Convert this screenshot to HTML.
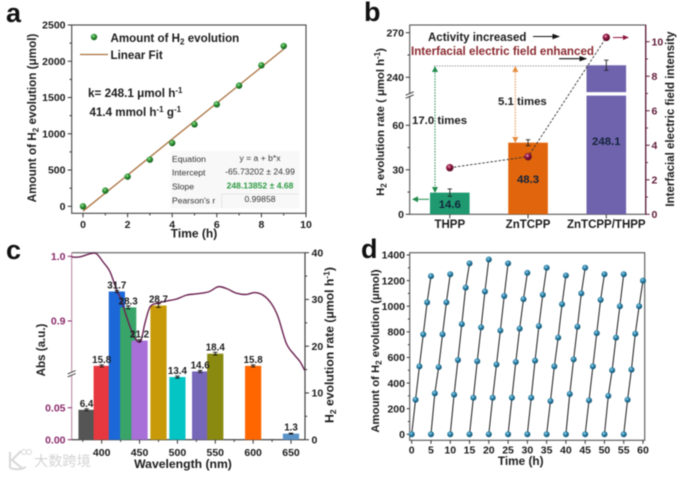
<!DOCTYPE html>
<html>
<head>
<meta charset="utf-8">
<style>
html,body{margin:0;padding:0;background:#fff;width:686px;height:477px;overflow:hidden}
svg{display:block;filter:blur(0.45px)}
text{font-family:"Liberation Sans","Noto Sans CJK SC",sans-serif;font-weight:bold;fill:#1c1c1c}
.t{font-size:10.5px}
.n{font-weight:normal;font-size:8.6px;fill:#333}
.letter{font-size:27px;fill:#111}
</style>
</head>
<body>
<svg id="fig" width="686" height="477" viewBox="0 0 686 477" xmlns="http://www.w3.org/2000/svg">
<defs>
<radialGradient id="gGreen" cx="40%" cy="35%" r="65%"><stop offset="0" stop-color="#a8dca8"/><stop offset=".45" stop-color="#2f9a35"/><stop offset="1" stop-color="#145a1a"/></radialGradient>
<radialGradient id="gMaroon" cx="40%" cy="35%" r="65%"><stop offset="0" stop-color="#e8a0b8"/><stop offset=".45" stop-color="#8e1440"/><stop offset="1" stop-color="#4e0a24"/></radialGradient>
<radialGradient id="gTeal" cx="40%" cy="35%" r="65%"><stop offset="0" stop-color="#a6d6ea"/><stop offset=".45" stop-color="#2a85ad"/><stop offset="1" stop-color="#124f6c"/></radialGradient>
<marker id="ahBlack" markerWidth="7" markerHeight="6" refX="6" refY="3" orient="auto"><path d="M0,0.5 L7,3 L0,5.5Z" fill="#111"/></marker>
<marker id="ahGreen" markerWidth="6" markerHeight="6" refX="5" refY="3" orient="auto-start-reverse"><path d="M0,0 L6,3 L0,6Z" fill="#1f8a4c"/></marker>
<marker id="ahOrange" markerWidth="6" markerHeight="6" refX="5" refY="3" orient="auto-start-reverse"><path d="M0,0 L6,3 L0,6Z" fill="#e58a3a"/></marker>
<marker id="ahMaroon" markerWidth="6" markerHeight="6" refX="5" refY="3" orient="auto"><path d="M0,0.5 L6,3 L0,5.5Z" fill="#8e1440"/></marker>
</defs>

<!-- Panel letters -->
<text class="letter" x="6" y="22">a</text>
<text class="letter" x="364" y="21">b</text>
<text class="letter" x="6" y="259">c</text>
<text class="letter" x="361" y="258">d</text>

<!-- Panel a static -->
<g id="panelA">
<rect x="71.7" y="25" width="234.3" height="188.3" fill="none" stroke="#444" stroke-width="1.1"/>
<text x="194" y="237.5" text-anchor="middle" font-size="12">Time (h)</text>
<text transform="translate(36,118) rotate(-90)" text-anchor="middle" font-size="11.7">Amount of H<tspan font-size="8" dy="2.5">2</tspan><tspan dy="-2.5"> evolution (μmol)</tspan></text>
<circle cx="94" cy="37" r="3.2" fill="url(#gGreen)"/>
<text x="110.5" y="42" font-size="11.6">Amount of H<tspan font-size="8" dy="2.5">2</tspan><tspan dy="-2.5"> evolution</tspan></text>
<line x1="80" y1="54.5" x2="108" y2="54.5" stroke="#a9713f" stroke-width="1.2"/>
<text x="110.5" y="59" font-size="11.6">Linear Fit</text>
<text x="88" y="97" font-size="11.7">k= 248.1 μmol h<tspan font-size="8" dy="-4">-1</tspan></text>
<text x="89.5" y="116" font-size="11.6">41.4 mmol h<tspan font-size="8" dy="-4">-1</tspan><tspan dy="4"> g</tspan><tspan font-size="8" dy="-4">-1</tspan></text>
</g>
<g id="panelAMarks"></g>
<g>
<rect x="170.7" y="151" width="128.6" height="57.3" fill="#f8f8f8"/>
<line x1="221.7" y1="194" x2="299" y2="194" stroke="#e2e2e2" stroke-width="0.8"/>
<line x1="221.7" y1="194" x2="221.7" y2="208" stroke="#e2e2e2" stroke-width="0.8"/>
<text class="n" x="172" y="161.8">Equation</text>
<text class="n" x="260" y="161" text-anchor="middle">y = a + b*x</text>
<text class="n" x="172" y="175.3">Intercept</text>
<text class="n" x="260" y="174.3" text-anchor="middle">-65.73202 ± 24.99</text>
<text class="n" x="172" y="189.3">Slope</text>
<text class="n" x="260" y="188.3" text-anchor="middle" style="fill:#2f9a45;font-weight:bold">248.13852 ± 4.68</text>
<text class="n" x="172" y="203.3">Pearson's r</text>
<text class="n" x="260" y="202" text-anchor="middle">0.99858</text>
</g>

<!-- Panel b static -->
<g>
<rect x="409.7" y="25" width="236" height="189.3" fill="none" stroke="#555" stroke-width="1.1"/>
<line x1="645.7" y1="25" x2="645.7" y2="214.3" stroke="#5e1a38" stroke-width="1.2"/>
<text transform="translate(384,122) rotate(-90)" text-anchor="middle" font-size="11.3">H<tspan font-size="8" dy="2.5">2</tspan><tspan dy="-2.5"> evolution rate ( μmol h</tspan><tspan font-size="8" dy="-4">-1</tspan><tspan dy="4">)</tspan></text>
<text transform="translate(674,119) rotate(-90)" text-anchor="middle" font-size="11.5">Interfacial electric field intensity</text>
</g>
<g id="panelBMarks"></g>
<g>
<line x1="434" y1="66" x2="587" y2="66" stroke="#888" stroke-width="0.9" stroke-dasharray="1.2 1.4"/>
<line x1="435" y1="67" x2="435" y2="192" stroke="#1f8a4c" stroke-width="1" stroke-dasharray="1.5 1.3" marker-start="url(#ahGreen)" marker-end="url(#ahGreen)"/>
<line x1="515.3" y1="67" x2="515.3" y2="142" stroke="#e58a3a" stroke-width="1" stroke-dasharray="1.5 1.3" marker-start="url(#ahOrange)" marker-end="url(#ahOrange)"/>
<line x1="429" y1="199.3" x2="413" y2="199.3" stroke="#1f8a4c" stroke-width="1" marker-end="url(#ahGreen)"/>
<line x1="613" y1="37.5" x2="628" y2="37.5" stroke="#8e1440" stroke-width="1" marker-end="url(#ahMaroon)"/>
<text x="428" y="41" font-size="11.5">Activity increased</text>
<line x1="533" y1="36.5" x2="559" y2="36.5" stroke="#111" stroke-width="1.1" marker-end="url(#ahBlack)"/>
<text x="411" y="55" font-size="11.6" style="fill:#8a2a30">Interfacial electric field enhanced</text>
<line x1="559" y1="58.7" x2="586" y2="58.7" stroke="#111" stroke-width="1.1" marker-end="url(#ahBlack)"/>
<text x="412" y="124" font-size="11.4">17.0 times</text>
<text x="498" y="105" font-size="11.4">5.1 times</text>
</g>

<!-- Panel c static -->
<g>
<line x1="71.7" y1="252.7" x2="305" y2="252.7" stroke="#777" stroke-width="1.4"/>
<line x1="71.7" y1="252.7" x2="71.7" y2="439.7" stroke="#b98aa6" stroke-width="1.1"/>
<line x1="305" y1="252.7" x2="305" y2="439.7" stroke="#333" stroke-width="1.1"/>
<line x1="71.7" y1="439.7" x2="305" y2="439.7" stroke="#333" stroke-width="1.1"/>
<text x="183" y="468" text-anchor="middle" font-size="12.2">Wavelength (nm)</text>
<text transform="translate(45,350) rotate(-90)" text-anchor="middle" font-size="11.6">Abs (a.u.)</text>
<text transform="translate(333.5,345) rotate(-90)" text-anchor="middle" font-size="12.2">H<tspan font-size="8.5" dy="2.5">2</tspan><tspan dy="-2.5"> evolution rate (μmol h</tspan><tspan font-size="8.5" dy="-4">-1</tspan><tspan dy="4">)</tspan></text>
</g>
<g id="panelCMarks"></g>

<!-- Panel d static -->
<g>
<rect x="409.7" y="252.7" width="235" height="187.6" fill="none" stroke="#555" stroke-width="1.1"/>
<text x="520.7" y="465" text-anchor="middle" font-size="11.8">Time (h)</text>
<text transform="translate(379,351) rotate(-90)" text-anchor="middle" font-size="11.3">Amount of H<tspan font-size="8" dy="2.5">2</tspan><tspan dy="-2.5"> evolution (μmol)</tspan></text>
</g>
<g id="panelDMarks"></g>

<!-- Watermark -->
<g>
<path d="M10,452 V468 M21,451 L12,460 L23,469 M10,468 Q18,471 26,467" fill="none" stroke="#d8d8d8" stroke-width="2"/>
<circle cx="24" cy="452" r="2.5" fill="none" stroke="#d8d8d8" stroke-width="1"/>
<circle cx="29" cy="452" r="2.5" fill="none" stroke="#d8d8d8" stroke-width="1"/>
<text x="34" y="466" font-size="14.2" style="fill:#d4d4d4;font-weight:normal">大数跨境</text>
</g>

<script>
// ---------- Panel a data ----------
const aTimes = [0,1,2,3,4,5,6,7,8,9];
const aAmounts = [0,216,409,643,873,1130,1406,1664,1944,2210];
const aFitSlope = 248.14;
const aFitIntercept = -65.73;
const aXTicks = [0,2,4,6,8,10];
const aXMinor = [1,3,5,7,9];
const aYTicks = [0,500,1000,1500,2000,2500];
const aYMinor = [250,750,1250,1750,2250];

// ---------- Panel b data ----------
const bCategories = ['THPP','ZnTCPP','ZnTCPP/THPP'];
const bRates = [14.6,48.3,248.1];
const bErrors = [2.5,2.0,3.4];
const bField = [2.7,3.34,10.25];
const bBarColors = ['#1f9a70','#e0650c','#6f63ad'];
const bYTicks = [0,30,60,240,270];
const bYMinor = [15,45,255];
const bRightTicks = [0,2,4,6,8,10];
const bRightMinor = [1,3,5,7,9];

// ---------- Panel c data ----------
const cWavelengths = [380,400,420,435,450,475,500,530,550,600,650];
const cRates = [6.4,15.8,31.7,28.3,21.2,28.7,13.4,14.6,18.4,15.8,1.3];
const cErrors = [0.2,0.2,0.2,0.3,0.2,0.4,0.2,0.2,0.3,0.2,0.1];
const cColors = ['#555555','#e8383f','#1c68d8','#38a468','#a86fd8','#c89a0a','#05c4c4','#7767b8','#8a8a10','#ff6600','#5a93c8'];
const cCurveWavelengths = [360,371,385,393,402,411,420,426,433,442,451,457,464,475,486,499,512,525,541,554,565,578,591,602,613,624,633,644,655,662,668];
const cCurveAbs = [0.999,0.999,1.004,1.004,0.991,0.976,0.947,0.932,0.906,0.878,0.868,0.896,0.922,0.928,0.931,0.934,0.940,0.942,0.945,0.953,0.950,0.943,0.941,0.944,0.940,0.927,0.906,0.865,0.847,0.837,0.824];
const cXTicks = [400,450,500,550,600,650];
const cXMinor = [375,425,475,525,575,625];
const cRightTicks = [0,10,20,30,40];
const cRightMinor = [5,15,25,35];
const cAbsUpperTicks = ['1.0','0.9'];
const cAbsLowerTicks = ['0.05','0.00'];

// ---------- Panel d data ----------
const dCycleHours = 5;
const dCycles = [
 [0,270,530,780,1030,1235],
 [0,320,525,780,1030,1250],
 [0,310,580,860,1145,1335],
 [0,285,570,835,1115,1365],
 [0,285,545,810,1080,1335],
 [0,285,565,825,1055,1260],
 [0,285,575,845,1090,1300],
 [0,260,530,755,1015,1240],
 [0,315,585,840,1100,1300],
 [0,265,530,790,1050,1250],
 [0,300,500,755,1000,1250],
 [0,270,505,785,1000,1200]
];
const dXTicks = [0,5,10,15,20,25,30,35,40,45,50,55,60];
const dYTicks = [0,200,400,600,800,1000,1200,1400];
const dYMinor = [100,300,500,700,900,1100,1300];

// ---------- Helpers ----------
const NS = 'http://www.w3.org/2000/svg';
function mk(parent, tag, attrs, name, txt) {
  const el = document.createElementNS(NS, tag);
  for (const k in attrs) el.setAttribute(k, attrs[k]);
  
  
  if (txt !== undefined) el.textContent = txt;
  parent.appendChild(el);
  return el;
}
function linear(d0, d1, r0, r1) { return v => r0 + (v - d0) * (r1 - r0) / (d1 - d0); }
function xTick(p, x, y, len, label, prefix, ly) {
  mk(p, 'line', {x1:x, y1:y, x2:x, y2:y+len, stroke:'#333', 'stroke-width':1}, prefix + '-x-tick');
  if (label !== null) mk(p, 'text', {x:x, y:ly, 'text-anchor':'middle', class:'t'}, prefix + '-x-tick-label', label);
}
function yTick(p, x, y, dir, len, label, prefix, color, lx) {
  mk(p, 'line', {x1:x, y1:y, x2:x+dir*len, y2:y, stroke:color || '#333', 'stroke-width':1}, prefix + '-y-tick');
  if (label !== null) {
    const t = mk(p, 'text', {x:lx, y:y+3.7, 'text-anchor':dir < 0 ? 'end' : 'start', class:'t'}, prefix + '-y-tick-label', label);
    if (color) t.style.fill = color;
  }
}
function breakMark(p, x, y, name) {
  mk(p, 'rect', {x:x-4, y:y-1.2, width:8, height:2.4, fill:'#fff'}, name + '-gap');
  mk(p, 'path', {d:`M${x-4},${y+0.2} L${x+4},${y-3.2} M${x-4},${y+3.2} L${x+4},${y-0.2}`, stroke:'#333', 'stroke-width':0.9, fill:'none'}, name);
}
function smoothPath(pts) {
  let d = `M${pts[0][0]},${pts[0][1]}`;
  for (let i = 0; i < pts.length - 1; i++) {
    const p0 = pts[Math.max(i-1,0)], p1 = pts[i], p2 = pts[i+1], p3 = pts[Math.min(i+2,pts.length-1)];
    d += ` C${p1[0]+(p2[0]-p0[0])/6},${p1[1]+(p2[1]-p0[1])/6} ${p2[0]-(p3[0]-p1[0])/6},${p2[1]-(p3[1]-p1[1])/6} ${p2[0]},${p2[1]}`;
  }
  return d;
}

// ---------- Panel a ----------
(function () {
  const p = document.getElementById('panelAMarks');
  const X = linear(0, 10, 83, 306);
  const Y = linear(0, 2500, 206.3, 25);
  aXTicks.forEach(v => xTick(p, X(v), 213.3, 4, String(v), 'panel-a', 228));
  aXMinor.forEach(v => xTick(p, X(v), 213.3, 2.2, null, 'panel-a-minor', 0));
  aYTicks.forEach(v => yTick(p, 71.7, Y(v), -1, 4, String(v), 'panel-a', null, 65.5));
  aYMinor.forEach(v => yTick(p, 71.7, Y(v), -1, 2.2, null, 'panel-a-minor', null, 0));
  const t0 = aTimes[0], t1 = aTimes[aTimes.length - 1];
  mk(p, 'line', {x1:X(t0), y1:Y(aFitIntercept + aFitSlope*t0), x2:X(t1), y2:Y(aFitIntercept + aFitSlope*t1), stroke:'#a9713f', 'stroke-width':1.3}, 'linear-fit-line');
  aTimes.forEach((t, i) => {
    mk(p, 'circle', {cx:X(t), cy:Y(aAmounts[i]), r:3.2, fill:'url(#gGreen)'}, 'h2-amount-point');
  });
})();

// ---------- Panel b ----------
(function () {
  const p = document.getElementById('panelBMarks');
  const lowY = linear(0, 30, 214.3, 169.8);
  const highY = linear(240, 270, 77.3, 32.7);
  const bY = v => v <= 80 ? lowY(v) : highY(v);
  const rY = linear(0, 10, 214.3, 41.7);
  const X = i => 449.8 + i * 78.25;
  bYTicks.forEach(v => yTick(p, 409.7, bY(v), -1, 4, String(v), 'panel-b', null, 404));
  bYMinor.forEach(v => yTick(p, 409.7, bY(v), -1, 2.2, null, 'panel-b-minor', null, 0));
  bRightTicks.forEach(v => yTick(p, 645.7, rY(v), 1, 4, String(v), 'panel-b-right', '#5e1a38', 651.5));
  bRightMinor.forEach(v => yTick(p, 645.7, rY(v), 1, 2.2, null, 'panel-b-right-minor', '#5e1a38', 0));
  breakMark(p, 409.7, 95, 'panel-b-axis-break');
  bCategories.forEach((c, i) => {
    const v = bRates[i], w = 39.6, x = X(i) - w/2;
    if (v > 80) {
      mk(p, 'rect', {x:x, y:lowY(80), width:w, height:214.3 - lowY(80), fill:bBarColors[i]}, 'rate-bar-lower-' + c);
      mk(p, 'rect', {x:x, y:bY(v), width:w, height:highY(230) - bY(v), fill:bBarColors[i]}, 'rate-bar-upper-' + c);
    } else {
      mk(p, 'rect', {x:x, y:bY(v), width:w, height:214.3 - bY(v), fill:bBarColors[i]}, 'rate-bar-' + c);
    }
    const hi = bY(v + bErrors[i]), lo = bY(v - bErrors[i]);
    mk(p, 'path', {d:`M${X(i)},${hi} V${lo} M${X(i)-2.2},${hi} H${X(i)+2.2} M${X(i)-2.2},${lo} H${X(i)+2.2}`, stroke:'#222', 'stroke-width':0.9, fill:'none'}, 'rate-error-bar-' + c);
    mk(p, 'line', {x1:X(i), y1:214.3, x2:X(i), y2:218.3, stroke:'#333', 'stroke-width':1}, 'panel-b-x-tick');
    mk(p, 'text', {x:X(i), y:228, 'text-anchor':'middle', 'font-size':11.5}, 'category-label-' + c, c);
  });
  const valueY = [208, 183, 145];
  bRates.forEach((v, i) => {
    const t = mk(p, 'text', {x:X(i), y:valueY[i], 'text-anchor':'middle', 'font-size':11.4}, 'rate-value-' + bCategories[i], v.toFixed(1));
    t.style.fill = '#12233a';
  });
  const pts = bField.map((v, i) => X(i) + ',' + rY(v)).join(' ');
  mk(p, 'polyline', {points:pts, fill:'none', stroke:'#333', 'stroke-width':0.9, 'stroke-dasharray':'2.5 1.6'}, 'field-intensity-line');
  bField.forEach((v, i) => {
    mk(p, 'circle', {cx:X(i), cy:rY(v), r:3.7, fill:'url(#gMaroon)'}, 'field-intensity-point-' + bCategories[i]);
  });
})();

// ---------- Panel c ----------
(function () {
  const p = document.getElementById('panelCMarks');
  const X = linear(400, 650, 101.7, 291);
  const R = linear(0, 40, 439.7, 252.7);
  const A = linear(0.9, 1.0, 321, 256.3);
  const L = linear(0, 0.05, 439.7, 407.7);
  cXTicks.forEach(v => xTick(p, X(v), 439.7, 4, String(v), 'panel-c', 456));
  cXMinor.forEach(v => xTick(p, X(v), 439.7, 2.2, null, 'panel-c-minor', 0));
  cRightTicks.forEach(v => yTick(p, 305, R(v), 1, 4, String(v), 'panel-c-right', null, 311.5));
  cRightMinor.forEach(v => yTick(p, 305, R(v), 1, 2.2, null, 'panel-c-right-minor', null, 0));
  cAbsUpperTicks.forEach(s => yTick(p, 71.7, A(parseFloat(s)), -1, 4, s, 'panel-c-left', '#8a2a6a', 65.5));
  cAbsLowerTicks.forEach(s => yTick(p, 71.7, L(parseFloat(s)), -1, 4, s, 'panel-c-left', '#8a2a6a', 65.5));
  breakMark(p, 71.7, 373.7, 'panel-c-axis-break');
  cWavelengths.forEach((w, i) => {
    const cx = X(w), bw = 16.2;
    mk(p, 'rect', {x:cx - bw/2, y:R(cRates[i]), width:bw, height:439.7 - R(cRates[i]), fill:cColors[i]}, 'rate-bar-' + w + 'nm');
  });
  const curvePts = cCurveWavelengths.map((w, i) => [X(w), A(cCurveAbs[i])]);
  mk(p, 'path', {d:smoothPath(curvePts), fill:'none', stroke:'#6a2050', 'stroke-width':1.4, 'stroke-linejoin':'round'}, 'absorbance-curve');
  cWavelengths.forEach((w, i) => {
    const cx = X(w), hi = R(cRates[i] + cErrors[i]), lo = R(cRates[i] - cErrors[i]);
    mk(p, 'path', {d:`M${cx},${hi} V${lo} M${cx-2.2},${hi} H${cx+2.2} M${cx-2.2},${lo} H${cx+2.2}`, stroke:'#111', 'stroke-width':0.9, fill:'none'}, 'rate-error-bar-' + w + 'nm');
    mk(p, 'text', {x:cx, y:R(cRates[i]) - 3, 'text-anchor':'middle', 'font-size':9.8}, 'rate-value-' + w + 'nm', cRates[i].toFixed(1));
  });
})();

// ---------- Panel d ----------
(function () {
  const p = document.getElementById('panelDMarks');
  const X = linear(0, 60, 411.7, 643);
  const Y = linear(0, 1400, 434.3, 255);
  dXTicks.forEach(v => xTick(p, X(v), 440.3, 3.5, String(v), 'panel-d', 453.5));
  dYTicks.forEach(v => yTick(p, 409.7, Y(v), -1, 3, String(v), 'panel-d', null, 405));
  dYMinor.forEach(v => yTick(p, 409.7, Y(v), -1, 1.8, null, 'panel-d-minor', null, 0));
  dCycles.forEach((cycle, c) => {
    const pts = cycle.map((v, j) => X((c + j / (cycle.length - 1)) * dCycleHours) + ',' + Y(v)).join(' ');
    mk(p, 'polyline', {points:pts, fill:'none', stroke:'#1a1a1a', 'stroke-width':1}, 'cycle-line-' + (c + 1));
  });
  dCycles.forEach((cycle, c) => {
    cycle.forEach((v, j) => {
      mk(p, 'circle', {cx:X((c + j / (cycle.length - 1)) * dCycleHours), cy:Y(v), r:3, fill:'url(#gTeal)'}, 'cycle-point-' + (c + 1));
    });
  });
})();
</script>
</svg>
</body>
</html>
